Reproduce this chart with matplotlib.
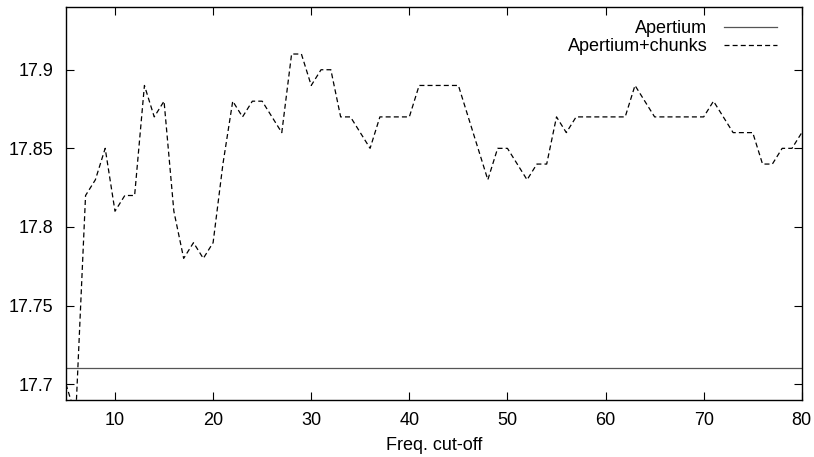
import matplotlib
matplotlib.use("Agg")
import matplotlib.pyplot as plt

# data
cutoff = list(range(5, 81))
chunks = [17.70, 17.68, 17.82, 17.83, 17.85, 17.81, 17.82, 17.82, 17.89, 17.87,
          17.88, 17.81, 17.78, 17.79, 17.78, 17.79, 17.84, 17.88, 17.87, 17.88,
          17.88, 17.87, 17.86, 17.91, 17.91, 17.89, 17.90, 17.90, 17.87, 17.87,
          17.86, 17.85, 17.87, 17.87, 17.87, 17.87, 17.89, 17.89, 17.89, 17.89,
          17.89, 17.87, 17.85, 17.83, 17.85, 17.85, 17.84, 17.83, 17.84, 17.84,
          17.87, 17.86, 17.87, 17.87, 17.87, 17.87, 17.87, 17.87, 17.89, 17.88,
          17.87, 17.87, 17.87, 17.87, 17.87, 17.87, 17.88, 17.87, 17.86, 17.86,
          17.86, 17.84, 17.84, 17.85, 17.85, 17.86]
baseline = 17.71

xticks = [10, 20, 30, 40, 50, 60, 70, 80]
yticks = [17.7, 17.75, 17.8, 17.85, 17.9]
ytick_labels = ["17.7", "17.75", "17.8", "17.85", "17.9"]

plt.rcParams['font.family'] = ['Liberation Sans', 'DejaVu Sans']

fig = plt.figure(figsize=(8.14, 4.57), dpi=100)
ax = fig.add_axes([0.081, 0.125, 0.904, 0.86])

ax.axhline(baseline, color='#555555', lw=0.9, label='Apertium')
ax.plot(cutoff, chunks, color='black', lw=0.9, dashes=(4, 2.5), label='Apertium+chunks')

ax.set_xlim(5, 80)
ax.set_ylim(17.69, 17.94)
ax.set_xticks(xticks)
ax.set_yticks(yticks)
ax.set_yticklabels(ytick_labels)
ax.tick_params(direction='in', length=6, width=0.8, top=True, right=True,
               labelsize=13)
ax.tick_params(axis='x', pad=9)
ax.tick_params(axis='y', pad=9)
for s in ax.spines.values():
    s.set_linewidth(1.0)

ax.set_xlabel('Freq. cut-off', fontsize=13, labelpad=5.5)

leg = ax.legend(loc='upper right', bbox_to_anchor=(0.966, 0.967), frameon=False,
                markerfirst=False, fontsize=13, handlelength=2.9,
                labelspacing=0.08, borderaxespad=0, borderpad=0,
                handletextpad=0.95)
for t in leg.get_texts():
    t.set_ha('right')

fig.savefig('out.png', dpi=100)
